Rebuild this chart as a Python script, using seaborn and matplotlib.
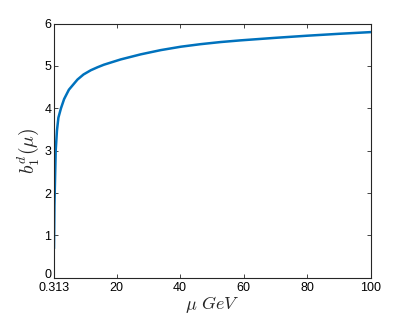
import matplotlib
matplotlib.use("Agg")
import matplotlib.pyplot as plt
import matplotlib.transforms as mtransforms
import seaborn as sns
import pandas as pd

# values
mu = [0.313, 0.45, 0.54, 0.85, 1.25, 1.7, 2.5, 3.5, 5.0, 7.7, 9.6, 11.9, 14.0, 16.0, 21.3, 27.6, 33.9,
      40.2, 46.4, 52.7, 59.0, 70.0, 80.0, 90.0, 100.0]
b1d = [0.69, 1.7, 2.0, 3.0, 3.48, 3.78, 4.0, 4.22, 4.44, 4.68, 4.80, 4.90, 4.97, 5.03, 5.155, 5.275, 5.375,
       5.455, 5.515, 5.565, 5.605, 5.665, 5.715, 5.76, 5.80]
xticks = [0.313, 20, 40, 60, 80, 100]
xticklabels = ["0.313", "20", "40", "60", "80", "100"]
yticks = [0, 1, 2, 3, 4, 5, 6]

sns.set_style("ticks")
plt.rcParams["font.family"] = ["Liberation Sans", "DejaVu Sans"]
plt.rcParams["mathtext.fontset"] = "cm"

df = pd.DataFrame({"mu": mu, "b": b1d})

fig = plt.figure(figsize=(4.09, 3.15), dpi=100)
ax = fig.add_axes([0.132, 0.118, 0.775, 0.807])
sns.lineplot(data=df, x="mu", y="b", ax=ax, color="#0072BD", linewidth=1.8)

ax.set_xlim(0.313, 100)
ax.set_ylim(0, 6)
ax.set_xticks(xticks)
ax.set_xticklabels(xticklabels)
ax.set_yticks(yticks)
ax.tick_params(direction="in", top=True, right=True, length=3, width=0.6,
               labelsize=9, colors="#262626", labelcolor="black")
ax.tick_params(axis="x", pad=3)
ax.tick_params(axis="y", pad=2)
for s in ax.spines.values():
    s.set_visible(True)
    s.set_linewidth(0.8)
    s.set_color("#262626")
ax.set_xlabel(r"$\mu\ GeV$", fontsize=13, labelpad=0)
ax.set_ylabel(r"$b_1^d(\mu)$", fontsize=14, labelpad=2)

# nudge the "0" y tick label up a little so it does not touch "0.313"
fig.canvas.draw()
lab0 = ax.get_yticklabels()[0]
lab0.set_transform(lab0.get_transform() + mtransforms.ScaledTranslation(0, 3 / 72, fig.dpi_scale_trans))

fig.savefig("out.png", dpi=100)
